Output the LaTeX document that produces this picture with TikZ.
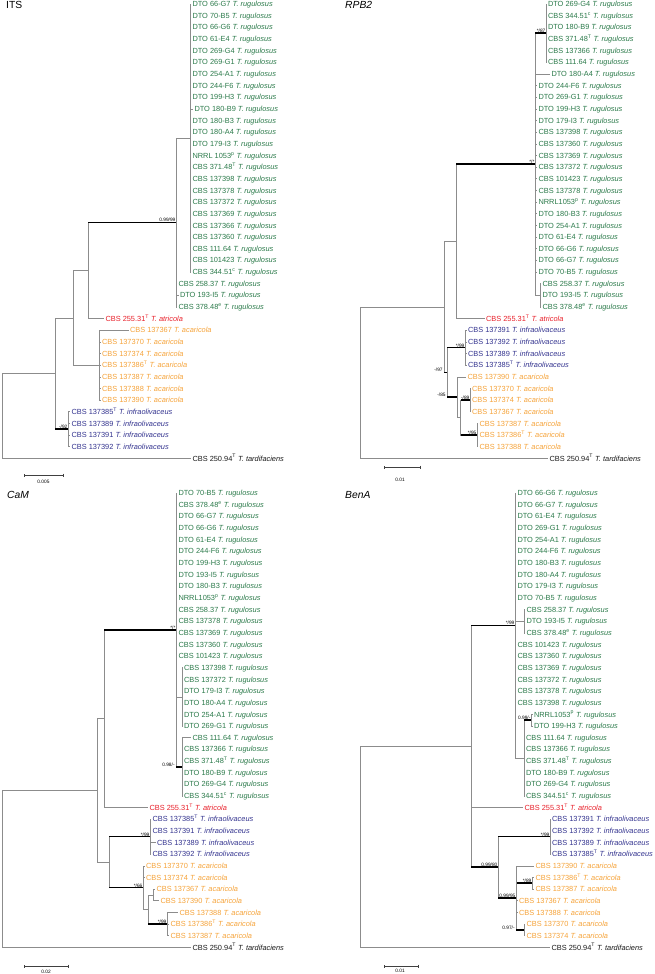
\documentclass[tikz,border=0pt]{standalone}
\usepackage{fontspec}
\setmainfont{Liberation Sans}
\usetikzlibrary{arrows.meta}
\definecolor{rugc}{HTML}{2B7A4A}
\definecolor{atrc}{HTML}{E8202A}
\definecolor{acac}{HTML}{F5A33A}
\definecolor{infc}{HTML}{34348F}
\definecolor{tarc}{HTML}{1A1A1A}
\definecolor{brc}{HTML}{8C8C8C}
\tikzset{
  leaf/.style={anchor=west, inner xsep=1.3pt, inner ysep=0pt, text height=5.3pt, text depth=0pt, font=\fontsize{7.4}{8}\selectfont},
  rug/.style={text=rugc}, atr/.style={text=atrc}, aca/.style={text=acac},
  infra/.style={text=infc}, tard/.style={text=tarc},
  br/.style={draw=brc, line width=0.6pt},
  thk/.style={draw=black, line width=1.6pt},
  sup/.style={anchor=south east, inner sep=0.4pt, font=\fontsize{4.8}{5}\selectfont},
  paneltitle/.style={anchor=west, inner sep=0pt, text height=7.4pt, text depth=0pt, font=\fontsize{10.3}{12}\selectfont},
  sbar/.style={draw=black!75, line width=0.5pt, {Bar[width=3pt]}-{Bar[width=3pt]}},
  slab/.style={inner sep=0pt, font=\fontsize{4.8}{5}\selectfont},
}
\def\dy{11.65}
\def\yb{4}
\def\nmrug{T. rugulosus}
\def\nmatr{T. atricola}
\def\nmaca{T. acaricola}
\def\nminfra{T. infraolivaceus}
\def\nmtard{T. tardifaciens}
\newcommand{\xT}{\textsuperscript{T}}
\newcommand{\xp}{\textsuperscript{p}}
\newcommand{\xc}{\textsuperscript{c}}
\newcommand{\xe}{\textsuperscript{e}}
% leaf: group, name, tip x, row, strain
\newcommand{\leaf}[5]{\node[leaf,#1] (#2) at (#3,{\yb+(#4-1)*\dy}) {#5~\textit{\csname nm#1\endcsname}};}
\newcommand{\nd}[3]{\coordinate (#1) at (#2,{\yb+(#3-1)*\dy});}
\newcommand{\bl}[2]{\draw[br] (#1) |- (#2.west);}
\newcommand{\bn}[2]{\draw[br] (#1) |- (#2);}
\newcommand{\tb}[3]{\draw[br] (#1) |- (#2); \draw[thk] (#1 |- #2) -- (#2); \node[sup] (#2-s) at (#2) {#3};}
\newcommand{\tbl}[3]{\draw[br] (#1) |- (#2); \draw[thk] (#1 |- #2) -- (#2); \node[sup] (#2-s) at ([xshift=-0.8pt]#1 |- #2) {#3};}
\begin{document}
\begin{tikzpicture}[x=1pt, y=-1pt]
  \useasboundingbox (0,0) rectangle (654,974);

  % ---------------- ITS ----------------
  \def\yb{4}
  \node[paneltitle] (tits) at (6,5) {ITS};
  \nd{iR}{2}{36.36}
  \nd{iA}{55}{32.72}
  \nd{iB}{73}{27.94}
  \nd{iC}{88}{23.875}
  \nd{iD}{176}{19.75}
  \nd{iE}{190}{12.5}
  \nd{iF}{99}{32}
  \nd{iG}{68}{37.5}
  \bn{iR}{iA} \bn{iA}{iB} \tb{iA}{iG}{-/92}
  \bn{iB}{iC} \bn{iB}{iF}
  \tb{iC}{iD}{0.99/99} \bn{iD}{iE}
  \foreach \x/\s [count=\i] in {191/DTO 66-G7, 191/DTO 70-B5, 191/DTO 66-G6, 191/DTO 61-E4,
      191/DTO 269-G4, 191/DTO 269-G1, 191/DTO 254-A1, 191/DTO 244-F6, 191/DTO 199-H3,
      193/DTO 180-B9, 191/DTO 180-B3, 191/DTO 180-A4, 191/DTO 179-I3, 191/NRRL 1053\xp,
      191/CBS 371.48\xT, 191/CBS 137398, 191/CBS 137378, 191/CBS 137372, 191/CBS 137369,
      191/CBS 137366, 191/CBS 137360, 191/CBS 111.64, 191/CBS 101423, 191/CBS 344.51\xc}
    {\leaf{rug}{its\i}{\x}{\i}{\s} \bl{iE}{its\i}}
  \foreach \x/\s [count=\i from 25] in {177/CBS 258.37, 178.5/DTO 193-I5, 177/CBS 378.48\xe}
    {\leaf{rug}{its\i}{\x}{\i}{\s} \bl{iD}{its\i}}
  \leaf{atr}{its28}{104}{28}{CBS 255.31\xT} \bl{iC}{its28}
  \foreach \x/\s [count=\i from 29] in {128.5/CBS 137367, 100.5/CBS 137370, 100.5/CBS 137374,
      100.5/CBS 137386\xT, 100.5/CBS 137387, 100.5/CBS 137388, 100.5/CBS 137390}
    {\leaf{aca}{its\i}{\x}{\i}{\s} \bl{iF}{its\i}}
  \foreach \s [count=\i from 36] in {CBS 137385\xT, CBS 137389, CBS 137391, CBS 137392}
    {\leaf{infra}{its\i}{70}{\i}{\s} \bl{iG}{its\i}}
  \leaf{tard}{its40}{191}{40}{CBS 250.94\xT} \bl{iR}{its40}
  \draw[sbar] (24,475) coordinate (isb1) -- (63,475) coordinate (isb2);
  \node[slab] (isbl) at (43.5,481.5) {0.005};

  % ---------------- RPB2 ----------------
  \def\yb{4}
  \node[paneltitle] (trpb) at (345,5) {\textit{RPB2}};
  \nd{rR}{360}{33.5}
  \nd{rA}{444}{27}
  \nd{rX}{456}{21.375}
  \nd{rM}{535}{14.75}
  \nd{rT}{546}{3.5}
  \nd{rS}{540}{26}
  \nd{rB}{447}{32.625}
  \nd{rI}{465}{30.5}
  \nd{rC}{457}{34.75}
  \nd{rD}{460.5}{36.5}
  \nd{rE}{470}{35}
  \nd{rF}{477}{38}
  \bn{rR}{rA} \bn{rA}{rX} \tbl{rA}{rB}{-/97}
  \tb{rX}{rM}{*/*} \tb{rM}{rT}{*/87} \bn{rM}{rS}
  \tb{rB}{rI}{*/99} \tbl{rB}{rC}{-/85}
  \bn{rC}{rD} \tb{rD}{rE}{-/89} \tb{rD}{rF}{*/95}
  \foreach \s [count=\i] in {DTO 269-G4, CBS 344.51\xc, DTO 180-B9, CBS 371.48\xT, CBS 137366, CBS 111.64}
    {\leaf{rug}{rp\i}{546.5}{\i}{\s} \bl{rT}{rp\i}}
  \leaf{rug}{rp7}{550}{7}{DTO 180-A4} \bl{rM}{rp7}
  \foreach \s [count=\i from 8] in {DTO 244-F6, DTO 269-G1, DTO 199-H3, DTO 179-I3, CBS 137398,
      CBS 137360, CBS 137369, CBS 137372, CBS 101423, CBS 137378, NRRL1053\xp, DTO 180-B3,
      DTO 254-A1, DTO 61-E4, DTO 66-G6, DTO 66-G7, DTO 70-B5}
    {\leaf{rug}{rp\i}{537}{\i}{\s} \bl{rM}{rp\i}}
  \foreach \s [count=\i from 25] in {CBS 258.37, DTO 193-I5, CBS 378.48\xe}
    {\leaf{rug}{rp\i}{541}{\i}{\s} \bl{rS}{rp\i}}
  \leaf{atr}{rp28}{484.5}{28}{CBS 255.31\xT} \bl{rX}{rp28}
  \foreach \s [count=\i from 29] in {CBS 137391, CBS 137392, CBS 137389, CBS 137385\xT}
    {\leaf{infra}{rp\i}{466.5}{\i}{\s} \bl{rI}{rp\i}}
  \leaf{aca}{rp33}{466}{33}{CBS 137390} \bl{rC}{rp33}
  \foreach \s [count=\i from 34] in {CBS 137370, CBS 137374, CBS 137367}
    {\leaf{aca}{rp\i}{470.5}{\i}{\s} \bl{rE}{rp\i}}
  \foreach \s [count=\i from 37] in {CBS 137387, CBS 137386\xT, CBS 137388}
    {\leaf{aca}{rp\i}{478}{\i}{\s} \bl{rF}{rp\i}}
  \leaf{tard}{rp40}{548}{40}{CBS 250.94\xT} \bl{rR}{rp40}
  \draw[sbar] (384,467) coordinate (rsb1) -- (420,467) coordinate (rsb2);
  \node[slab] (rsbl) at (400,480) {0.01};

  % ---------------- CaM ----------------
  \def\yb{493}
  \node[paneltitle] (tcam) at (7,494.5) {\textit{CaM}};
  \nd{cR}{2}{33.27}
  \nd{cW}{97}{26.53}
  \nd{cZ}{104}{20.375}
  \nd{cM}{176}{12.75}
  \nd{cY}{182}{18.5}
  \nd{cV}{182}{24.5}
  \nd{cN}{109}{32.69}
  \nd{cI}{150}{30.5}
  \nd{cG}{143}{34.875}
  \nd{cH}{148}{36.75}
  \nd{cJ}{153}{35.5}
  \nd{cK}{167}{38}
  \bn{cR}{cW} \bn{cW}{cZ} \bn{cW}{cN}
  \tb{cZ}{cM}{*/*} \bn{cM}{cY} \tbl{cM}{cV}{0.98/-}
  \tb{cN}{cI}{*/99} \tb{cN}{cG}{*/66}
  \bn{cG}{cH} \bn{cH}{cJ} \tb{cH}{cK}{*/99}
  \foreach \s [count=\i] in {DTO 70-B5, CBS 378.48\xe, DTO 66-G7, DTO 66-G6, DTO 61-E4, DTO 244-F6,
      DTO 199-H3, DTO 193-I5, DTO 180-B3, NRRL1053\xp, CBS 258.37, CBS 137378, CBS 137369,
      CBS 137360, CBS 101423}
    {\leaf{rug}{cm\i}{177}{\i}{\s} \bl{cM}{cm\i}}
  \foreach \s [count=\i from 16] in {CBS 137398, CBS 137372, DTO 179-I3, DTO 180-A4, DTO 254-A1, DTO 269-G1}
    {\leaf{rug}{cm\i}{182.5}{\i}{\s} \bl{cY}{cm\i}}
  \foreach \x/\s [count=\i from 22] in {191/CBS 111.64, 182.5/CBS 137366, 182.5/CBS 371.48\xT,
      182.5/DTO 180-B9, 182.5/DTO 269-G4, 182.5/CBS 344.51\xc}
    {\leaf{rug}{cm\i}{\x}{\i}{\s} \bl{cV}{cm\i}}
  \leaf{atr}{cm28}{148}{28}{CBS 255.31\xT} \bl{cZ}{cm28}
  \foreach \x/\s [count=\i from 29] in {151/CBS 137385\xT, 151/CBS 137391, 155.5/CBS 137389, 151/CBS 137392}
    {\leaf{infra}{cm\i}{\x}{\i}{\s} \bl{cI}{cm\i}}
  \foreach \s [count=\i from 33] in {CBS 137370, CBS 137374}
    {\leaf{aca}{cm\i}{144.5}{\i}{\s} \bl{cG}{cm\i}}
  \foreach \x/\s [count=\i from 35] in {155/CBS 137367, 159/CBS 137390}
    {\leaf{aca}{cm\i}{\x}{\i}{\s} \bl{cJ}{cm\i}}
  \foreach \x/\s [count=\i from 37] in {178/CBS 137388, 169/CBS 137386\xT, 169/CBS 137387}
    {\leaf{aca}{cm\i}{\x}{\i}{\s} \bl{cK}{cm\i}}
  \leaf{tard}{cm40}{191}{40}{CBS 250.94\xT} \bl{cR}{cm40}
  \draw[sbar] (24,966) coordinate (csb1) -- (68,966) coordinate (csb2);
  \node[slab] (csbl) at (46,972) {0.02};

  % ---------------- BenA ----------------
  \def\yb{493}
  \node[paneltitle] (tben) at (345,494.5) {\textit{BenA}};
  \nd{bR}{360}{31.4}
  \nd{bN}{471}{22.75}
  \nd{bM}{515}{12.375}
  \nd{bS}{524}{12}
  \nd{bL}{524}{23.75}
  \nd{bK}{531}{20.5}
  \nd{bO}{498}{33.125}
  \nd{bI}{550}{30.5}
  \nd{bG}{516}{35.75}
  \nd{bP}{532}{34.5}
  \nd{bQ}{524}{38.5}
  \bn{bR}{bN} \tb{bN}{bM}{*/99} \bn{bM}{bS} \bn{bM}{bL} \tb{bL}{bK}{0.99/-}
  \tb{bN}{bO}{0.99/80} \tb{bO}{bI}{*/99} \tb{bO}{bG}{0.99/95}
  \tb{bG}{bP}{*/89} \tbl{bG}{bQ}{0.97/-}
  \foreach \s [count=\i] in {DTO 66-G6, DTO 66-G7, DTO 61-E4, DTO 269-G1, DTO 254-A1, DTO 244-F6,
      DTO 180-B3, DTO 180-A4, DTO 179-I3, DTO 70-B5}
    {\leaf{rug}{bn\i}{516}{\i}{\s} \bl{bM}{bn\i}}
  \foreach \s [count=\i from 11] in {CBS 258.37, DTO 193-I5, CBS 378.48\xe}
    {\leaf{rug}{bn\i}{525}{\i}{\s} \bl{bS}{bn\i}}
  \foreach \s [count=\i from 14] in {CBS 101423, CBS 137360, CBS 137369, CBS 137372, CBS 137378, CBS 137398}
    {\leaf{rug}{bn\i}{516}{\i}{\s} \bl{bM}{bn\i}}
  \foreach \s [count=\i from 20] in {NRRL1053\xp, DTO 199-H3}
    {\leaf{rug}{bn\i}{532.5}{\i}{\s} \bl{bK}{bn\i}}
  \foreach \s [count=\i from 22] in {CBS 111.64, CBS 137366, CBS 371.48\xT, DTO 180-B9, DTO 269-G4, CBS 344.51\xc}
    {\leaf{rug}{bn\i}{524.5}{\i}{\s} \bl{bL}{bn\i}}
  \leaf{atr}{bn28}{523}{28}{CBS 255.31\xT} \bl{bN}{bn28}
  \foreach \s [count=\i from 29] in {CBS 137391, CBS 137392, CBS 137389, CBS 137385\xT}
    {\leaf{infra}{bn\i}{550.5}{\i}{\s} \bl{bI}{bn\i}}
  \leaf{aca}{bn33}{534}{33}{CBS 137390} \bl{bG}{bn33}
  \foreach \s [count=\i from 34] in {CBS 137386\xT, CBS 137387}
    {\leaf{aca}{bn\i}{534}{\i}{\s} \bl{bP}{bn\i}}
  \foreach \s [count=\i from 36] in {CBS 137367, CBS 137388}
    {\leaf{aca}{bn\i}{517.5}{\i}{\s} \bl{bG}{bn\i}}
  \foreach \s [count=\i from 38] in {CBS 137370, CBS 137374}
    {\leaf{aca}{bn\i}{525}{\i}{\s} \bl{bQ}{bn\i}}
  \leaf{tard}{bn40}{550}{40}{CBS 250.94\xT} \bl{bR}{bn40}
  \draw[sbar] (384,966) coordinate (bsb1) -- (418,966) coordinate (bsb2);
  \node[slab] (bsbl) at (400,971) {0.01};
\end{tikzpicture}
\end{document}
